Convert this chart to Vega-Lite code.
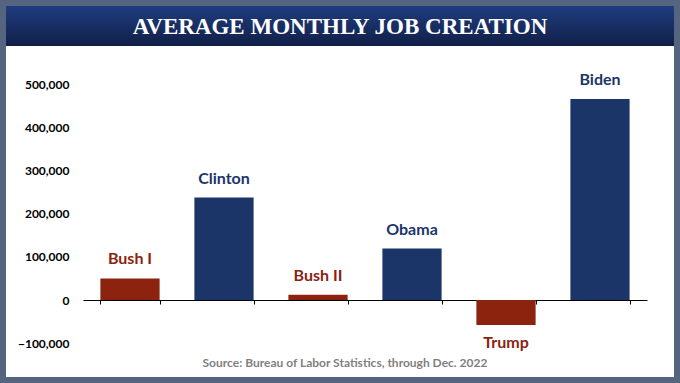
{
  "$schema": "https://vega.github.io/schema/vega-lite/v6.json",
  "background": "#56657f",
  "padding": {"left": 6, "top": 6, "right": 6, "bottom": 6},
  "autosize": {"type": "pad"},
  "spacing": 0,
  "config": {
    "font": "Lato",
    "view": {"stroke": null}
  },
  "vconcat": [
    {
      "width": 668,
      "height": 40,
      "view": {
        "stroke": null,
        "fill": {
          "gradient": "linear",
          "x1": 0, "y1": 0, "x2": 0, "y2": 1,
          "stops": [
            {"offset": 0, "color": "#1f3d80"},
            {"offset": 1, "color": "#111f47"}
          ]
        }
      },
      "data": {"values": [{"heading": "AVERAGE MONTHLY JOB CREATION"}]},
      "mark": {
        "type": "text",
        "font": "Liberation Serif",
        "fontWeight": "bold",
        "fontSize": 23,
        "color": "white",
        "baseline": "middle",
        "align": "center",
        "dy": 1
      },
      "encoding": {"text": {"field": "heading"}}
    },
    {
      "width": 668,
      "height": 331,
      "view": {"stroke": null, "fill": "white"},
      "title": {
        "text": "Source: Bureau of Labor Statistics, through Dec. 2022",
        "orient": "bottom",
        "anchor": "middle",
        "offset": -19,
        "dx": 5,
        "font": "Lato",
        "fontWeight": "bold",
        "fontSize": 12,
        "color": "#7f7f7f"
      },
      "data": {
        "values": [
          {"president": "Bush I", "party": "R", "jobs": 50000},
          {"president": "Clinton", "party": "D", "jobs": 237000},
          {"president": "Bush II", "party": "R", "jobs": 12000},
          {"president": "Obama", "party": "D", "jobs": 119000},
          {"president": "Trump", "party": "R", "jobs": -58000},
          {"president": "Biden", "party": "D", "jobs": 465000}
        ]
      },
      "encoding": {
        "x": {
          "field": "president",
          "type": "nominal",
          "sort": null,
          "scale": {"range": [77, 641], "paddingInner": 0.37, "paddingOuter": 0.185},
          "axis": {
            "title": null,
            "labels": false,
            "orient": "bottom",
            "offset": -77,
            "domainColor": "#000000",
            "domainWidth": 1,
            "tickColor": "#000000",
            "tickSize": 4,
            "tickBand": "extent"
          }
        },
        "y": {
          "field": "jobs",
          "type": "quantitative",
          "scale": {"domain": [-100000, 500000], "range": [297.2, 38], "nice": false, "zero": false},
          "axis": {
            "title": null,
            "orient": "left",
            "offset": -63,
            "values": [-100000, 0, 100000, 200000, 300000, 400000, 500000],
            "format": ",.0f",
            "domain": false,
            "ticks": false,
            "tickSize": 0,
            "grid": false,
            "labelPadding": 0,
            "labelFont": "Lato",
            "labelFontWeight": "bold",
            "labelFontSize": 12,
            "labelColor": "#000000"
          }
        },
        "color": {
          "field": "party",
          "type": "nominal",
          "scale": {"domain": ["R", "D"], "range": ["#8b230f", "#1b3569"]},
          "legend": null
        }
      },
      "layer": [
        {"mark": {"type": "bar"}, "encoding": {"y2": {"datum": 0}}},
        {
          "transform": [{"filter": "datum.jobs >= 0"}],
          "mark": {"type": "text", "fontWeight": "bold", "fontSize": 16, "baseline": "alphabetic", "dy": -14},
          "encoding": {"text": {"field": "president"}}
        },
        {
          "transform": [{"filter": "datum.jobs < 0"}],
          "mark": {"type": "text", "fontWeight": "bold", "fontSize": 16, "baseline": "alphabetic", "dy": 23},
          "encoding": {"text": {"field": "president"}}
        }
      ]
    }
  ]
}
